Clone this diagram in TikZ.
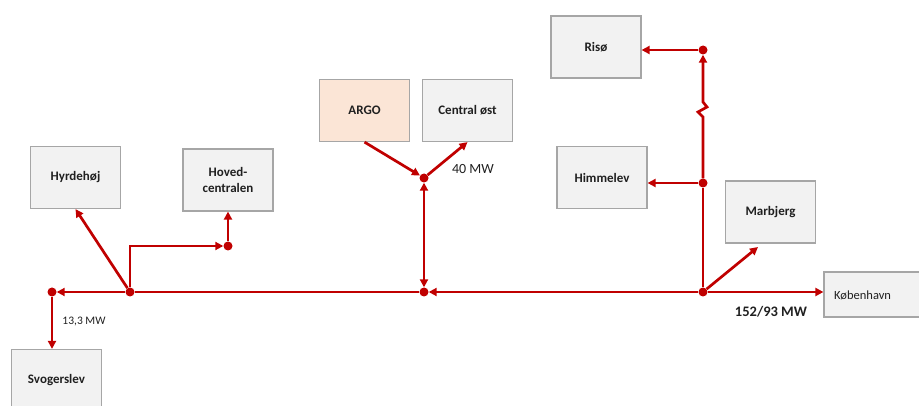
\documentclass[tikz,border=0pt]{standalone}
\usepackage{fontspec}
\setmainfont{Carlito}
\usetikzlibrary{arrows.meta,calc}
\definecolor{lred}{HTML}{C00000}
\definecolor{boxfill}{HTML}{F2F2F2}
\definecolor{boxline}{HTML}{A6A6A6}
\definecolor{argofill}{HTML}{FBE5D6}
\definecolor{txt}{HTML}{202020}
\begin{document}
\begin{tikzpicture}[x=1pt,y=-1pt,
 box/.style={draw=boxline,line width=1.2pt,fill=boxfill,minimum width=90pt,minimum height=62pt,inner sep=2pt,font=\bfseries\fontsize{13}{16}\selectfont,align=center,text=txt},
 link/.style={draw=lred,line width=2.7pt,-{Triangle[length=8pt,width=8pt]}},
 wire/.style={draw=lred,line width=2.7pt},
 dot/.style={circle,fill=lred,inner sep=0pt,minimum size=9pt},
 lbl/.style={text=txt,inner sep=0pt},
]
\useasboundingbox (0,0) rectangle (919,406);
\clip (0,0) rectangle (919,406);
% boxes
\node[box] (riso) at (596,47) {Risø};
\node[box] (himm) at (602,177.5) {Himmelev};
\node[box] (marb) at (770.5,212) {Marbjerg};
\node[box,minimum width=106pt,minimum height=45pt] (kbh) at (877,294.5) {};
\node[lbl,anchor=west,font=\fontsize{12.5}{14}\selectfont] (kbhtxt) at (834,295) {København};
\node[box] (svog) at (56.5,380.5) {Svogerslev};
\node[box] (hyrd) at (75.5,177.5) {Hyrdehøj};
\node[box] (hoved) at (228,180) {Hoved-\\centralen};
\node[box,fill=argofill] (argo) at (364.5,110.5) {ARGO};
\node[box] (cost) at (467.5,110.5) {Central øst};
% junctions
\node[dot] (a) at (52,292) {};
\node[dot] (b) at (130,292) {};
\node[dot] (c) at (424,292) {};
\node[dot] (d) at (703,292) {};
\node[dot] (e) at (424,178) {};
\node[dot] (f) at (228,246) {};
\node[dot] (g) at (703,183) {};
\node[dot] (h) at (703,50) {};
\coordinate (mtip) at (758,247);
% connectors
\draw[link] (b) -- (a);
\draw[link] (a) -- (a |- svog.north);
\draw[link] (b) -- (hyrd.south);
\draw[link] (b) |- (f);
\draw[link] (f) -- (hoved.south);
\draw[wire] (c) -- (b);
\draw[link] (d) -- (c);
\draw[link,{Triangle[length=8pt,width=8pt]}-{Triangle[length=8pt,width=8pt]}] (c) -- (e);
\draw[link] (argo.south) -- (e);
\draw[link] (e) -- (cost.south);
\draw[link] (d) -- (mtip);
\draw[link] (d) -- (d -| kbh.west);
\draw[wire] (d) -- (g);
\draw[link] (g) -- (703,117) -- (698,112) -- (707,107) -- (703,102) -- (h);
\draw[link] (g) -- (g -| himm.east);
\draw[link] (h) -- (h -| riso.east);
% labels
\node[lbl,font=\fontsize{11.5}{13}\selectfont] (l1) at (84,322) {13,3 MW};
\node[lbl,font=\fontsize{14}{16}\selectfont] (l2) at (473,169) {40 MW};
\node[lbl,font=\bfseries\fontsize{14.5}{17}\selectfont] (l3) at (771,312) {152/93 MW};
\end{tikzpicture}
\end{document}
